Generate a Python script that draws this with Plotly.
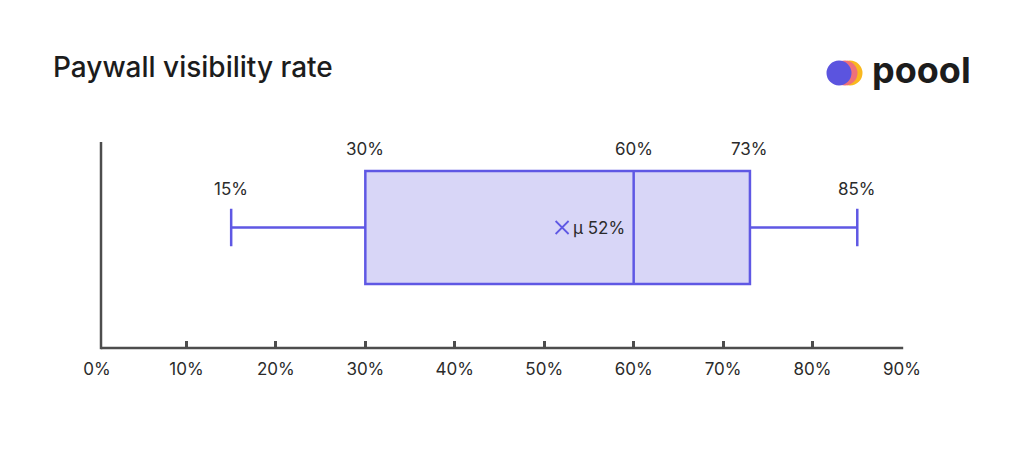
import plotly.graph_objects as go

# ---- data ----
stat_names = ["min", "q1", "median", "q3", "max"]
stat_values = [15, 30, 60, 73, 85]
mean_value = 52
tick_values = [0, 10, 20, 30, 40, 50, 60, 70, 80, 90]
tick_labels = [f"{v}%" for v in tick_values]
title_text = "Paywall visibility rate"

# ---- layout constants (pixels) ----
W, H = 1024, 474
L, R = 97, 902          # x pixel of 0% and 90%
T, B = 142, 348         # plot top / axis line

def px(x):  # pixel -> paper x
    return (x - L) / (R - L)

def py(y):  # pixel -> paper y
    return (B - y) / (B - T)

LINE = "#5f58e4"
FILL = "#d8d6f7"
AXIS = "#4d4d4d"
TXT = "#2b2b2b"
FONT = "Inter"
LBL = 17

box_center = py(227.5)
box_width = (284 - 171) / (B - T)

lo, q1, med, q3, hi = stat_values

fig = go.Figure()
fig.add_trace(go.Box(
    y=[box_center], q1=[q1], median=[med], q3=[q3],
    lowerfence=[lo], upperfence=[hi],
    orientation="h", width=box_width, whiskerwidth=0.33,
    line=dict(color=LINE, width=2.5), fillcolor=FILL,
    boxpoints=False, hoverinfo="skip", showlegend=False,
))
fig.add_trace(go.Scatter(
    x=[mean_value], y=[box_center], mode="markers",
    marker=dict(symbol="x-thin", size=13, line=dict(color=LINE, width=1.8)),
    hoverinfo="skip", showlegend=False,
))

ann = []
box_top = box_center + box_width / 2
for v in [q1, med, q3]:
    ann.append(dict(x=v, y=box_top, xref="x", yref="y", text=f"{v}%",
                    showarrow=False, yanchor="bottom", yshift=10,
                    font=dict(family=FONT, size=LBL, color=TXT)))
cap_top = box_center + box_width * 0.33 / 2
for v in [lo, hi]:
    ann.append(dict(x=v, y=cap_top, xref="x", yref="y", text=f"{v}%",
                    showarrow=False, yanchor="bottom", yshift=8,
                    font=dict(family=FONT, size=LBL, color=TXT)))
ann.append(dict(x=mean_value, y=box_center, xref="x", yref="y",
                text=f"μ {mean_value}%", showarrow=False, xanchor="left",
                xshift=9, font=dict(family=FONT, size=LBL, color=TXT)))
# title
ann.append(dict(x=px(51), y=py(67), xref="paper", yref="paper", text=title_text,
                showarrow=False, xanchor="left", yanchor="middle",
                font=dict(family=FONT, size=28, color="#1c1c1c", weight=500)))
# logo text
ann.append(dict(x=px(870), y=py(70), xref="paper", yref="paper", text="poool",
                showarrow=False, xanchor="left", yanchor="middle",
                font=dict(family=FONT, size=36, color="#1c1c1c", weight=700)))

shapes = []
r = 12.5
for cx, col in [(850, "#f9b81f"), (845, "#ef7079"), (839, "#5b54df")]:
    shapes.append(dict(type="circle", xref="paper", yref="paper",
                       x0=px(cx - r), x1=px(cx + r), y0=py(73 + r), y1=py(73 - r),
                       fillcolor=col, line=dict(width=0), layer="above"))
# axis lines
shapes.append(dict(type="line", xref="paper", yref="paper",
                   x0=px(101), x1=px(101), y0=py(348 + 1.2), y1=1,
                   line=dict(color=AXIS, width=2.5), layer="above"))
shapes.append(dict(type="line", xref="paper", yref="paper",
                   x0=px(101), x1=1 + 1.2 / (R - L), y0=0, y1=0,
                   line=dict(color=AXIS, width=2.5), layer="above"))

fig.update_layout(
    width=W, height=H,
    margin=dict(l=L, r=W - R, t=T, b=H - B),
    paper_bgcolor="white", plot_bgcolor="white",
    font=dict(family=FONT, color=TXT),
    annotations=ann, shapes=shapes,
    xaxis=dict(range=[0, 90], tickvals=tick_values, ticktext=tick_labels,
               showgrid=False, zeroline=False, showline=False,
               ticks="inside", ticklen=7,
               tickwidth=2.5, tickcolor=AXIS, ticklabelstandoff=9,
               tickfont=dict(family=FONT, size=LBL, color=TXT)),
    yaxis=dict(range=[0, 1], showgrid=False, zeroline=False, showline=False,
               showticklabels=False, ticks=""),
)

fig.write_html("out.html")
